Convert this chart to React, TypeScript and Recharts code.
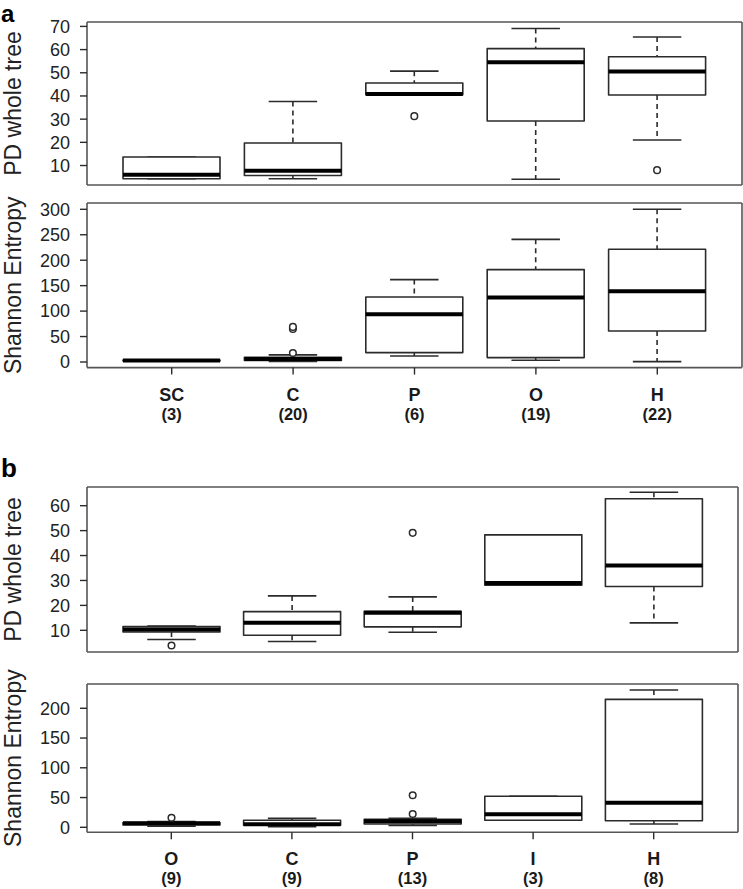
import { ComposedChart, Bar, XAxis, YAxis } from 'recharts';

// Boxplots of PD whole tree / Shannon entropy per feeding group, panels a and b.

const groupsA = ['SC', 'C', 'P', 'O', 'H'];
const countsA = [3, 20, 6, 19, 22];
const groupsB = ['O', 'C', 'P', 'I', 'H'];
const countsB = [9, 9, 13, 3, 8];

// [lower whisker, q1, median, q3, upper whisker]
const pdA = [
  [4.3, 4.3, 6.0, 13.7, 13.7],
  [4.3, 5.7, 7.7, 19.7, 37.6],
  [40.5, 40.5, 40.9, 45.6, 50.7],
  [4.1, 29.2, 54.5, 60.4, 69.1],
  [21.0, 40.4, 50.6, 56.9, 65.4],
];
const pdAOut = [[], [], [31.3], [], [8.0]];

const shA = [
  [1.5, 2, 3, 4, 4.5],
  [1, 3, 6, 9, 14],
  [11.8, 18.5, 93.7, 127.7, 161.9],
  [3.3, 8.6, 126.5, 181.5, 241],
  [0.8, 60.9, 138.9, 221.4, 300],
];
const shAOut = [[], [17.7, 65, 69], [], [], []];

const pdB = [
  [6.3, 9.3, 10.3, 11.5, 11.7],
  [5.5, 8.0, 13.0, 17.5, 23.8],
  [9.2, 11.4, 17.0, 17.6, 23.4],
  [28.1, 28.1, 29.0, 48.3, 48.3],
  [13.0, 27.6, 36.0, 62.8, 65.4],
];
const pdBOut = [[3.9], [], [49.1], [], []];

const shB = [
  [2, 4, 6.7, 8, 9.5],
  [1, 3.4, 5, 11.8, 15],
  [3, 5.5, 10, 13.4, 15],
  [11.8, 11.8, 21.8, 52.1, 52.1],
  [5.5, 11.1, 41.4, 215, 230.8],
];
const shBOut = [[16], [], [22.4, 53.8], [], []];

const pdATicks = [10, 20, 30, 40, 50, 60, 70];
const shATicks = [0, 50, 100, 150, 200, 250, 300];
const pdBTicks = [10, 20, 30, 40, 50, 60];
const shBTicks = [0, 50, 100, 150, 200];

const FONT = '"Liberation Sans", Arial, Helvetica, sans-serif';
const INK = '#2b2b2b';
const FRAME = '#555';

function rows(groups: string[], counts: number[], stats: number[][], outs: number[][]) {
  return groups.map((g, i) => ({
    name: g,
    n: counts[i],
    min: stats[i][0],
    q1: stats[i][1],
    med: stats[i][2],
    q3: stats[i][3],
    max: stats[i][4],
    out: outs[i],
  }));
}

function BoxShape(props: any) {
  const { x, y, width, height, payload } = props;
  if (!payload) return null;
  const top = Math.min(y, y + height);
  const bot = Math.max(y, y + height);
  // map a value into the bar's pixel span (bar covers min..max)
  const s = (v: number) => bot - ((v - payload.min) / (payload.max - payload.min)) * (bot - top);
  const cx = x + width / 2;
  const cap = width / 4;
  return (
    <g>
      <line x1={cx} x2={cx} y1={s(payload.max)} y2={s(payload.q3)} stroke={INK} strokeWidth={1.6} strokeDasharray="5 4" />
      <line x1={cx} x2={cx} y1={s(payload.q1)} y2={s(payload.min)} stroke={INK} strokeWidth={1.6} strokeDasharray="5 4" />
      <line x1={cx - cap} x2={cx + cap} y1={s(payload.max)} y2={s(payload.max)} stroke={INK} strokeWidth={1.6} />
      <line x1={cx - cap} x2={cx + cap} y1={s(payload.min)} y2={s(payload.min)} stroke={INK} strokeWidth={1.6} />
      <rect
        x={x}
        y={s(payload.q3)}
        width={width}
        height={s(payload.q1) - s(payload.q3)}
        fill="#fff"
        stroke={INK}
        strokeWidth={1.6}
        strokeLinejoin="round"
      />
      <line x1={x} x2={x + width} y1={s(payload.med)} y2={s(payload.med)} stroke="#000" strokeWidth={4} />
      {payload.out.map((v: number, i: number) => (
        <circle key={i} cx={cx} cy={s(v)} r={3.3} fill="#fff" stroke={INK} strokeWidth={1.5} />
      ))}
    </g>
  );
}

function CatTick(props: any) {
  const { x, y, payload, groups, counts } = props;
  const idx = groups.indexOf(payload.value);
  return (
    <g>
      <text x={x} y={y} dy={24} textAnchor="middle" fontFamily={FONT} fontWeight="bold" fontSize={18} fill="#1a1a1a">
        {payload.value}
      </text>
      <text x={x} y={y} dy={43} textAnchor="middle" fontFamily={FONT} fontWeight="bold" fontSize={16.5} fill="#1a1a1a">
        ({counts[idx]})
      </text>
    </g>
  );
}

function Panel({
  data,
  groups,
  counts,
  ticks,
  domain,
  yLabel,
  plotTop,
  plotBottom,
  plotRight,
  axisH,
  showLabels,
}: {
  data: any[];
  groups: string[];
  counts: number[];
  ticks: number[];
  domain: [number, number];
  yLabel: string;
  plotTop: number;
  plotBottom: number;
  plotRight: number;
  axisH: number;
  showLabels: boolean;
}) {
  const mTop = 16;
  const height = plotBottom - plotTop + mTop + axisH;
  const cy = mTop + (plotBottom - plotTop) / 2;
  const lx = 21;
  return (
    <div style={{ position: 'absolute', left: 0, top: plotTop - mTop }}>
      <ComposedChart
        width={743}
        height={height}
        data={data}
        margin={{ top: mTop - 1, right: 743 - plotRight - 1, bottom: 0, left: 37 }}
      >
        <XAxis
          dataKey="name"
          height={axisH}
          padding={{ left: 24, right: 24 }}
          interval={0}
          tickSize={7}
          axisLine={{ stroke: FRAME, strokeWidth: 1.6 }}
          tickLine={{ stroke: INK, strokeWidth: 1.4 }}
          tick={showLabels ? (p: any) => <CatTick {...p} groups={groups} counts={counts} /> : false}
        />
        <XAxis
          xAxisId="top"
          orientation="top"
          dataKey="name"
          height={1}
          tick={false}
          tickLine={false}
          axisLine={{ stroke: FRAME, strokeWidth: 1.6 }}
        />
        <YAxis
          type="number"
          domain={domain}
          ticks={ticks}
          interval={0}
          allowDataOverflow
          width={50}
          tickSize={7}
          tickMargin={10}
          axisLine={{ stroke: FRAME, strokeWidth: 1.6 }}
          tickLine={{ stroke: INK, strokeWidth: 1.4 }}
          tick={{ fontFamily: FONT, fontSize: 18, fill: '#222' }}
          label={() => (
            <text
              x={lx}
              y={cy}
              transform={`rotate(-90, ${lx}, ${cy})`}
              textAnchor="middle"
              fontFamily={FONT}
              fontSize={23}
              fill="#222"
            >
              {yLabel}
            </text>
          )}
        />
        <YAxis
          yAxisId="right"
          orientation="right"
          type="number"
          domain={domain}
          width={1}
          tick={false}
          tickLine={false}
          axisLine={{ stroke: FRAME, strokeWidth: 1.6 }}
        />
        <Bar
          dataKey={(d: any) => [d.min, d.max]}
          barSize={97}
          shape={(p: any) => <BoxShape {...p} />}
          isAnimationActive={false}
        />
      </ComposedChart>
    </div>
  );
}

export default function App() {
  const a1 = rows(groupsA, countsA, pdA, pdAOut);
  const a2 = rows(groupsA, countsA, shA, shAOut);
  const b1 = rows(groupsB, countsB, pdB, pdBOut);
  const b2 = rows(groupsB, countsB, shB, shBOut);
  return (
    <div style={{ position: 'absolute', left: 0, top: 0, width: 743, height: 889, background: '#fff', overflow: 'hidden' }}>
      <svg width={40} height={40} style={{ position: 'absolute', left: 0, top: 0 }}>
        <text x={1} y={22} fontFamily={FONT} fontWeight="bold" fontSize={24} fill="#000">a</text>
      </svg>
      <svg width={40} height={50} style={{ position: 'absolute', left: 0, top: 440 }}>
        <text x={1} y={37} fontFamily={FONT} fontWeight="bold" fontSize={26} fill="#000">b</text>
      </svg>
      <Panel data={a1} groups={groupsA} counts={countsA} ticks={pdATicks} domain={[1.6, 71.9]} yLabel="PD whole tree"
        plotTop={22} plotBottom={185} plotRight={742} axisH={12} showLabels={false} />
      <Panel data={a2} groups={groupsA} counts={countsA} ticks={shATicks} domain={[-11, 312.4]} yLabel="Shannon Entropy"
        plotTop={202.7} plotBottom={367.3} plotRight={742} axisH={60} showLabels />
      <Panel data={b1} groups={groupsB} counts={countsB} ticks={pdBTicks} domain={[1.3, 67.5]} yLabel="PD whole tree"
        plotTop={487.3} plotBottom={652.3} plotRight={738} axisH={12} showLabels={false} />
      <Panel data={b2} groups={groupsB} counts={countsB} ticks={shBTicks} domain={[-8.4, 240.8]} yLabel="Shannon Entropy"
        plotTop={684} plotBottom={832.3} plotRight={738} axisH={56} showLabels />
    </div>
  );
}
